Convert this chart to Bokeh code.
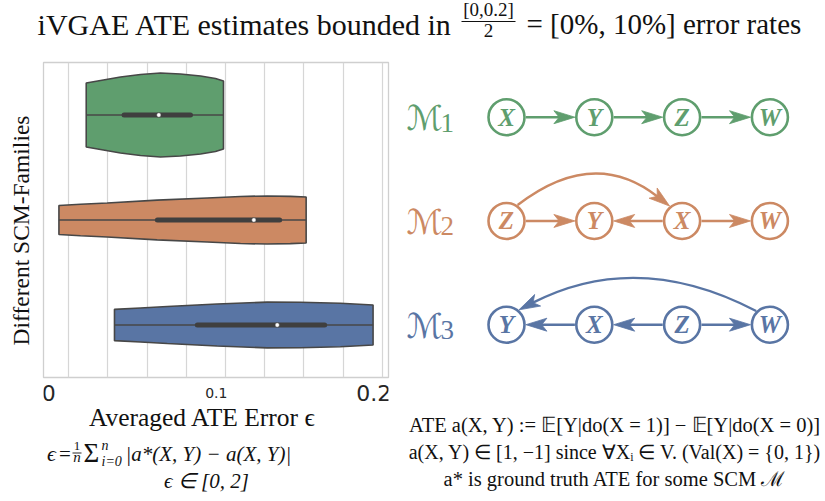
import math
from bokeh.plotting import figure
from bokeh.models import Range1d, FixedTicker
from bokeh.layouts import column, row
from bokeh.embed import file_html
from bokeh.resources import INLINE
from bokeh.core.properties import value

# ---------------- data ----------------
family_symbol = ["\u2133", "\u2133", "\u2133"]
family_index = ["1", "2", "3"]
family_colors = ["#5f9e6e", "#cc8963", "#5975a4"]

# violin outlines: averaged ATE error (x) and density half-width (category units)
m1_error = [0.0230, 0.0318, 0.0441, 0.0564, 0.0687, 0.0810, 0.0934, 0.1026, 0.1075]
m1_density = [0.305, 0.329, 0.362, 0.386, 0.400, 0.390, 0.371, 0.348, 0.324]
m2_error = [0.0062, 0.0195, 0.0359, 0.0667, 0.0975, 0.1180, 0.1344, 0.1487, 0.1584]
m2_density = [0.138, 0.150, 0.162, 0.189, 0.210, 0.224, 0.229, 0.225, 0.219]
m3_error = [0.0404, 0.0564, 0.0729, 0.1036, 0.1344, 0.1549, 0.1795, 0.1996]
m3_density = [0.149, 0.162, 0.176, 0.200, 0.218, 0.216, 0.207, 0.190]

q1_error = [0.0463, 0.0668, 0.0914]
median_error = [0.0677, 0.1262, 0.1406]
q3_error = [0.0872, 0.1421, 0.1698]

x_major_ticks = [0, 0.2]
x_major_labels = ["0", "0.2"]
x_mid_tick = [0.1]
x_mid_label = ["0.1"]
grid_ticks = [0.0122, 0.0363, 0.0605, 0.0848, 0.1088, 0.1330, 0.1569, 0.1811, 0.2055]

# causal graphs of the three SCM families
m1_nodes = ["X", "Y", "Z", "W"]
m1_edges = [("X", "Y"), ("Y", "Z"), ("Z", "W")]
m1_bent = []
m2_nodes = ["Z", "Y", "X", "W"]
m2_edges = [("Z", "Y"), ("X", "Y"), ("X", "W")]
m2_bent = [("Z", "X")]
m3_nodes = ["Y", "X", "Z", "W"]
m3_edges = [("X", "Y"), ("Z", "X"), ("Z", "W")]
m3_bent = [("W", "Y")]

# ---------------- styles ----------------
SERIF = "Liberation Serif"
TXT = "#111111"
EDGE = "#474747"
BOX = "#3f3f3f"
X_LO, X_HI = -0.0033, 0.2091       # visible error range of the violin panel
FRAME_L, FRAME_R = 43.0, 388.0     # page pixels of that panel's frame


def xpx(px):
    # page pixel -> error units (for placing text under the violin panel)
    return X_LO + (px - FRAME_L) * (X_HI - X_LO) / (FRAME_R - FRAME_L)


def blank(w, h, xr, yr, **kw):
    f = figure(width=w, height=h, x_range=xr if isinstance(xr, Range1d) else Range1d(*xr),
               y_range=Range1d(*yr), toolbar_location=None, output_backend="svg",
               x_axis_location=None, y_axis_location=None, **kw)
    f.grid.visible = False
    f.outline_line_color = None
    return f


def txt(f, x, base, s, size, align="left", style="normal", color=TXT, font=SERIF, **kw):
    # 'base' is the text baseline; glyphs are anchored at their middle
    f.text(x=[x], y=[base - 0.33 * size], text=[s], text_font=value(font),
           text_font_size=f"{size}px", text_align=align, text_baseline="middle",
           text_font_style=style, text_color=color, **kw)


# ---------------- title ----------------
tf = blank(825, 50, (0, 825), (50, 0), min_border=0)
txt(tf, 452, 33.5, "iVGAE ATE estimates bounded in", 30, "right")
txt(tf, 488, 15, "[0,0.2]", 19, "center")
tf.segment(x0=[461], y0=[21], x1=[515], y1=[21], line_color=TXT, line_width=1.1)
txt(tf, 488, 36.7, "2", 19, "center")
txt(tf, 526, 33.5, "= [0%, 10%] error rates", 29, "left")

# ---------------- y label ----------------
yl = blank(36, 451, (0, 36), (501, 50), min_border=0)
yl.text(x=[20], y=[230], text=["Different SCM-Families"], angle=math.pi / 2,
        text_font=value(SERIF), text_font_size="23.5px", text_align="center",
        text_baseline="middle", text_color=TXT)

# ---------------- violin plot ----------------
vf = figure(width=364, height=330, x_range=Range1d(X_LO, X_HI),
            y_range=Range1d(-0.5, 2.5), toolbar_location=None, output_backend="svg",
            x_axis_location=None, y_axis_location=None, min_border_left=7,
            min_border_right=12, min_border_top=12, min_border_bottom=3)
vf.outline_line_color = "#cfcfcf"
vf.outline_line_width = 1.3
vf.ygrid.visible = False
vf.xgrid.ticker = FixedTicker(ticks=grid_ticks)
vf.xgrid.grid_line_color = "#d6d6d6"
vf.xgrid.grid_line_width = 1.2

errors = [m1_error, m2_error, m3_error]
densities = [m1_density, m2_density, m3_density]
centers = [2, 1, 0]
for e, d, c, col in zip(errors, densities, centers, family_colors):
    xs = list(e) + list(reversed(e))
    ys = [c + w for w in d] + [c - w for w in reversed(d)]
    vf.patch(xs, ys, fill_color=col, line_color=EDGE, line_width=1.6)

vf.segment(x0=[min(e) for e in errors], y0=centers, x1=[max(e) for e in errors],
           y1=centers, line_color=EDGE, line_width=1.6)
vf.segment(x0=q1_error, y0=centers, x1=q3_error, y1=centers, line_color=BOX,
           line_width=5, line_cap="round")
vf.scatter(median_error, centers, size=4.5, fill_color="white", line_color=BOX,
           line_width=0.6)

# ---------------- tick labels + text under the violin plot ----------------
bf = blank(364, 121, vf.x_range, (501, 380), min_border_left=7, min_border_right=12,
           min_border_top=0, min_border_bottom=0)
bf.text(x=x_major_ticks, y=[400 - 0.35 * 22] * len(x_major_ticks), text=x_major_labels,
        text_font=value("DejaVu Sans"), text_font_size="22px", text_align="center",
        text_baseline="middle", text_color="#262626")
bf.text(x=x_mid_tick, y=[397.3 - 0.35 * 14], text=x_mid_label, x_offset=5,
        text_font=value("DejaVu Sans"), text_font_size="14px", text_align="center",
        text_baseline="middle", text_color="#262626")

txt(bf, xpx(202), 425, "Averaged ATE Error \u03f5", 25.5, "center")
txt(bf, xpx(46.5), 460, "\u03f5", 22, "left", "italic")
txt(bf, xpx(58.5), 460, "=", 21, "left")
txt(bf, xpx(76.5), 450, "1", 13, "center")
bf.segment(x0=[xpx(72)], y0=[452.5], x1=[xpx(81)], y1=[452.5], line_color=TXT,
           line_width=0.9)
txt(bf, xpx(76.5), 461.7, "n", 15, "center", "italic")
txt(bf, xpx(83), 461, "\u03a3", 27, "left")
txt(bf, xpx(101), 449.3, "n", 14, "left", "italic")
txt(bf, xpx(101), 465.5, "i=0", 14, "left", "italic")
txt(bf, xpx(125), 460, "|a*(X, Y) \u2212 a(X, Y)|", 21, "left", "italic")
txt(bf, xpx(206), 487, "\u03f5 \u2208 [0, 2]", 21, "center", "italic")

# ---------------- causal graphs + definitions ----------------
rf = blank(425, 451, (400, 825), (501, 50), min_border=0)
NODE_X0, NODE_DX = 506.0, 87.8
ROW_Y0, ROW_DY = 116.7, 103.75
R, R_OUT = 18.0, 19.4
HEAD_L, HEAD_W = 21.0, 13.0
BEND_H = 45.0


def arrow_head(tip, u):
    nx, ny = -u[1], u[0]
    bx, by = tip[0] - HEAD_L * u[0], tip[1] - HEAD_L * u[1]
    notch = (tip[0] - 0.75 * HEAD_L * u[0], tip[1] - 0.75 * HEAD_L * u[1])
    return ([tip[0], bx + HEAD_W / 2 * nx, notch[0], bx - HEAD_W / 2 * nx],
            [tip[1], by + HEAD_W / 2 * ny, notch[1], by - HEAD_W / 2 * ny])


def on_circle(c, ang_deg):
    a = math.radians(ang_deg)
    return (c[0] + R_OUT * math.cos(a), c[1] - R_OUT * math.sin(a))


graphs = [(m1_nodes, m1_edges, m1_bent), (m2_nodes, m2_edges, m2_bent),
          (m3_nodes, m3_edges, m3_bent)]
for k, (nodes, edges, bent) in enumerate(graphs):
    col = family_colors[k]
    ry = ROW_Y0 + k * ROW_DY
    pos = {n: (NODE_X0 + i * NODE_DX, ry) for i, n in enumerate(nodes)}
    hx, hy = [], []
    sx0, sy0, sx1, sy1 = [], [], [], []
    for a, b in edges:
        pa, pb = pos[a], pos[b]
        s = 1.0 if pb[0] > pa[0] else -1.0
        tip = (pb[0] - s * R_OUT, pb[1])
        sx0.append(pa[0] + s * R_OUT); sy0.append(pa[1])
        sx1.append(tip[0] - 0.72 * HEAD_L * s); sy1.append(tip[1])
        xs, ys = arrow_head(tip, (s, 0.0))
        hx.append(xs); hy.append(ys)
    rf.segment(x0=sx0, y0=sy0, x1=sx1, y1=sy1, line_color=col, line_width=2.4)
    for a, b in bent:
        pa, pb = pos[a], pos[b]
        right = pb[0] > pa[0]
        p0 = on_circle(pa, 55 if right else 135)
        p2 = on_circle(pb, 130 if right else 50)
        apex = ry - BEND_H
        c = ((p0[0] + p2[0]) / 2, 2 * apex - (p0[1] + p2[1]) / 2)
        dx, dy = p2[0] - c[0], p2[1] - c[1]
        dl = math.hypot(dx, dy)
        u = (dx / dl, dy / dl)
        end = (p2[0] - 0.72 * HEAD_L * u[0], p2[1] - 0.72 * HEAD_L * u[1])
        rf.quadratic(x0=[p0[0]], y0=[p0[1]], x1=[end[0]], y1=[end[1]],
                     cx=[c[0]], cy=[c[1]], line_color=col, line_width=2.4)
        xs, ys = arrow_head(p2, u)
        hx.append(xs); hy.append(ys)
    rf.patches(hx, hy, fill_color=col, line_color=col, line_width=0.8)
    rf.circle([pos[n][0] for n in nodes], [ry] * len(nodes), radius=R,
              fill_color="white", line_color=col, line_width=2.6)
    rf.text(x=[pos[n][0] for n in nodes], y=[ry] * len(nodes), text=nodes,
            text_font=value(SERIF), text_font_size="25px", text_font_style="bold italic",
            text_align="center", text_baseline="middle", text_color=col)
    rf.text(x=[406], y=[ry + 1], text=[family_symbol[k]], text_font=value("DejaVu Sans"),
            text_font_size="34px", text_align="left", text_baseline="middle",
            text_color=col)
    rf.text(x=[440], y=[ry + 5.5], text=[family_index[k]], text_font=value(SERIF),
            text_font_size="27px", text_align="left", text_baseline="middle",
            text_color=col)

txt(rf, 614.5, 431.7,
    "ATE a(X, Y) := \U0001D53C[Y|do(X = 1)] \u2212 \U0001D53C[Y|do(X = 0)]", 20.5, "center")
txt(rf, 614.5, 458.3,
    "a(X, Y) \u2208 [1, \u22121] since \u2200X\u1d62 \u2208 V. (Val(X) = {0, 1})", 20, "center")
txt(rf, 614.5, 485, "a* is ground truth ATE for some SCM \u2133", 20.5, "center")

layout = column(tf, row(yl, column(vf, bf), rf))
open("out.html", "w").write(file_html(layout, INLINE))
